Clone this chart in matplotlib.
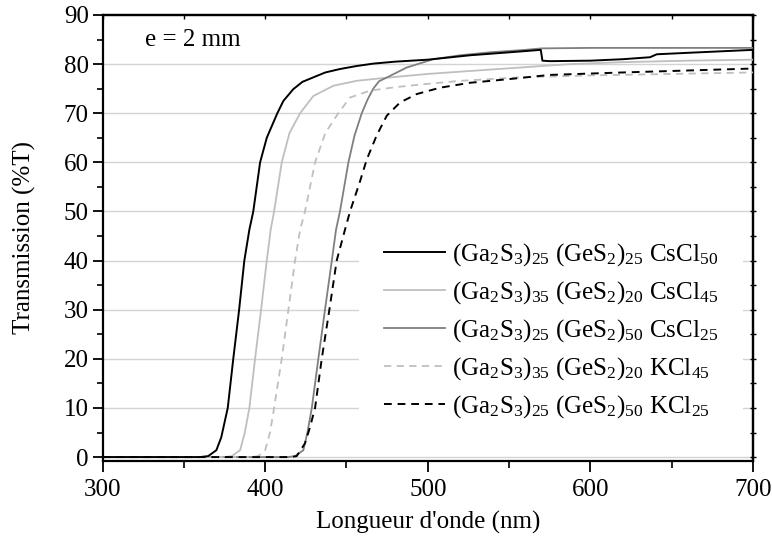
import matplotlib
matplotlib.use("Agg")
import matplotlib.pyplot as plt
from matplotlib.ticker import MultipleLocator

plt.rcParams['font.family'] = ['Liberation Serif', 'DejaVu Serif']
plt.rcParams['mathtext.fontset'] = 'custom'
plt.rcParams['mathtext.rm'] = 'Liberation Serif'
plt.rcParams['mathtext.it'] = 'Liberation Serif:italic'

# Data (wavelength nm, transmission %T)
x_cs50 = [300, 360, 365, 370, 373, 377, 380.4, 384, 387.2, 390.3, 392.7, 396.9, 401, 407.5, 411.2, 417.3,
          423, 429.6, 437, 446, 456, 466.5, 480, 500, 526, 550, 569.5, 570.5, 575, 600, 620, 636.7, 640.8,
          660, 680, 700]
y_cs50 = [0, 0, 0.2, 1.4, 4, 10, 20, 30, 40, 46.3, 50, 60, 65, 70, 72.5, 74.9,
          76.4, 77.3, 78.3, 79, 79.6, 80.1, 80.5, 80.9, 81.8, 82.4, 82.9, 80.7, 80.6, 80.7, 81.0, 81.4, 82.0,
          82.3, 82.6, 82.9]

x_cs45 = [300, 375, 379.5, 384.6, 387.5, 390.3, 393.8, 397.5, 401, 403.4, 405.5, 410.2, 415, 421.5, 429.6,
          442, 456.3, 470.7, 500, 526, 556.7, 587.5, 620, 660, 700]
y_cs45 = [0, 0, 0.2, 1.4, 5, 10, 20, 30, 40, 46.3, 50, 60, 66, 70, 73.5,
          75.6, 76.6, 77.1, 78.0, 78.6, 79.3, 80.0, 80.4, 80.7, 80.9]

x_cs25 = [300, 414, 418.4, 423.5, 426, 428.7, 432.7, 436.8, 441, 443.6, 446, 451.2, 455, 459.4, 463, 466.5,
          470, 476.8, 487, 503.4, 520, 538, 560, 570, 600, 650, 700]
y_cs25 = [0, 0, 0.2, 1.4, 5, 10, 20, 30, 40, 46.3, 50, 60, 65.5, 70, 72.8, 75,
          76.5, 77.6, 79.3, 81, 81.8, 82.4, 82.9, 83.2, 83.3, 83.3, 83.3]

x_k45 = [300, 392, 395.8, 400, 403, 405.5, 410.2, 414.3, 418.4, 421.5, 424.5, 430.7, 437, 445, 452.2, 464.5,
         480, 497.3, 520, 556.7, 600, 650, 700]
y_k45 = [0, 0, 0.2, 1.4, 5, 10, 20, 30, 40, 46.3, 50, 60, 66, 70, 73.2, 74.6,
         75.3, 75.9, 76.6, 77.3, 77.7, 78.0, 78.3]

x_k25 = [300, 416, 419.4, 424.5, 427.5, 430.7, 434.8, 439.5, 444, 449.1, 452.2, 458.4, 462.5, 468.6, 474.8,
         483, 493.2, 507.6, 526, 548.6, 575, 620, 660, 700]
y_k25 = [0, 0, 0.2, 2.8, 6, 10, 20, 30, 40, 46.3, 50, 56.2, 60.6, 65.5, 69.5,
         72.2, 73.9, 75.2, 76.2, 76.9, 77.8, 78.3, 78.7, 79.1]

labels = [r'(Ga$_2$S$_3$)$_{25}$ (GeS$_2$)$_{25}$ CsCl$_{50}$',
          r'(Ga$_2$S$_3$)$_{35}$ (GeS$_2$)$_{20}$ CsCl$_{45}$',
          r'(Ga$_2$S$_3$)$_{25}$ (GeS$_2$)$_{50}$ CsCl$_{25}$',
          r'(Ga$_2$S$_3$)$_{35}$ (GeS$_2$)$_{20}$ KCl$_{45}$',
          r'(Ga$_2$S$_3$)$_{25}$ (GeS$_2$)$_{50}$ KCl$_{25}$']

FS = 18

fig = plt.figure(figsize=(7.72, 5.43), dpi=100)
ax = fig.add_axes([0.1328, 0.151, 0.8426, 0.8214])

for yv in range(0, 90, 10):
    ax.axhline(yv, color='#d4d4d4', lw=1.0, zorder=0)

ax.plot(x_cs50, y_cs50, color='black', lw=1.4, label=labels[0], zorder=5)
ax.plot(x_cs45, y_cs45, color='#bfbfbf', lw=1.3, label=labels[1], zorder=3)
ax.plot(x_cs25, y_cs25, color='#7f7f7f', lw=1.3, label=labels[2], zorder=3)
ax.plot(x_k45, y_k45, color='#bfbfbf', lw=1.3, ls=(0, (4, 3)), label=labels[3], zorder=3)
ax.plot(x_k25, y_k25, color='black', lw=1.4, ls=(0, (4, 3)), label=labels[4], zorder=4)

ax.set_xlim(300, 700)
ax.set_ylim(-0.8, 90)

ax.xaxis.set_major_locator(MultipleLocator(100))
ax.xaxis.set_minor_locator(MultipleLocator(50))
ax.yaxis.set_major_locator(MultipleLocator(10))
ax.yaxis.set_minor_locator(MultipleLocator(5))

ax.tick_params(axis='both', which='major', labelsize=FS, width=1.3)
ax.tick_params(axis='x', which='major', direction='out', length=8, top=False, pad=5)
ax.tick_params(axis='x', which='minor', direction='out', length=5, width=1.2, top=False)
ax.tick_params(axis='y', which='major', direction='out', length=7, right=False, pad=3)
ax.tick_params(axis='y', which='minor', direction='out', length=4, width=1.2, right=False)

# top and right decorations
secx = ax.secondary_xaxis('top')
secx.xaxis.set_major_locator(MultipleLocator(50))
secx.tick_params(direction='in', length=3, width=1.0, labeltop=False)
secy = ax.secondary_yaxis('right')
secy.yaxis.set_major_locator(MultipleLocator(5))
secy.tick_params(direction='inout', length=5, width=1.0, labelright=False)
secx.spines['top'].set_linewidth(1.6)
secy.spines['right'].set_linewidth(1.6)

for s in ax.spines.values():
    s.set_linewidth(1.6)

ax.set_xlabel("Longueur d'onde (nm)", fontsize=FS, labelpad=7)
ax.set_ylabel("Transmission (%T)", fontsize=FS, labelpad=20)

ax.text(326, 85, 'e = 2 mm', fontsize=FS, va='center', ha='left')

leg = ax.legend(loc='lower right', bbox_to_anchor=(0.985, 0.035), fontsize=FS, frameon=True,
                fancybox=False, edgecolor='none', facecolor='white', framealpha=1.0,
                handlelength=2.44, handletextpad=0.3, labelspacing=0.45, borderaxespad=0,
                borderpad=1.0)
leg.set_zorder(10)

fig.savefig('out.png', dpi=100)
